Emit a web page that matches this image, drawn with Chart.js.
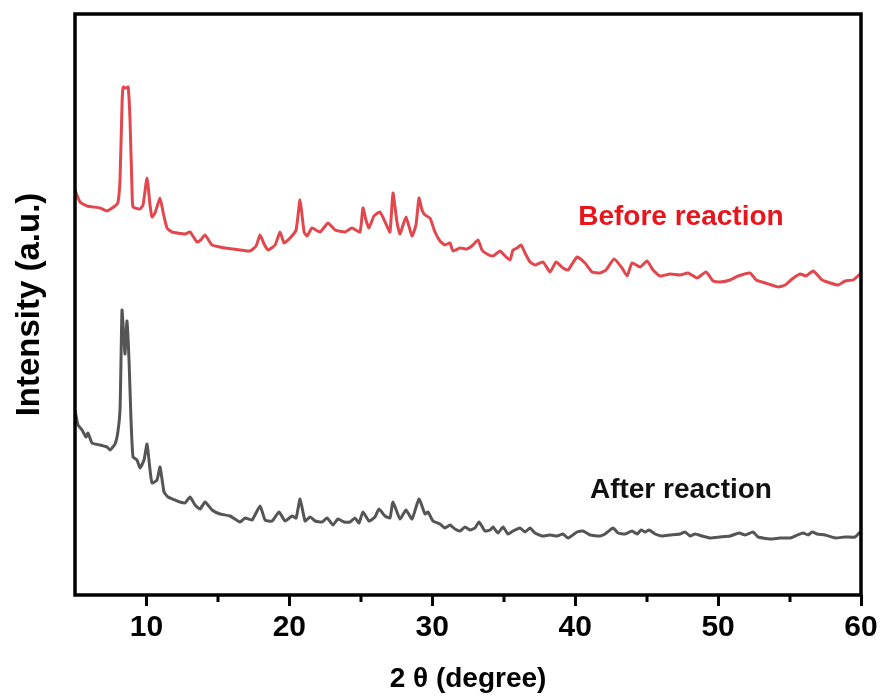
<!DOCTYPE html>
<html>
<head>
<meta charset="utf-8">
<script src="https://cdn.jsdelivr.net/npm/chart.js@4/dist/chart.umd.min.js"></script>
<style>
html,body{margin:0;padding:0;background:#fff;}
canvas{display:block;}
</style>
</head>
<body>
<canvas id="c" width="882" height="700"></canvas>
<script>
// 2θ (degree) and intensity (a.u.) — "Before reaction"
const beforeTheta = [5.0,5.35,5.84,6.75,7.24,7.8,8.0,8.15,8.3,8.38,8.57,8.72,8.85,8.99,9.06,9.55,9.76,10.04,10.25,10.39,10.6,10.95,11.16,11.44,11.79,12.7,13.05,13.54,13.8,14.1,14.59,15.5,16.55,17.25,17.67,17.95,18.23,18.5,19.0,19.35,19.63,20.05,20.47,20.75,21.03,21.24,21.58,22.15,22.7,23.2,23.9,24.38,24.94,25.15,25.36,25.57,25.92,26.34,26.76,27.04,27.25,27.53,27.74,28.16,28.58,28.86,29.07,29.28,29.49,29.84,30.19,30.54,30.89,31.24,31.45,31.94,32.43,32.85,33.2,33.48,33.83,34.25,34.74,35.09,35.44,35.65,35.93,36.21,36.56,36.84,37.19,37.75,38.24,38.66,39.15,39.5,40.13,40.69,41.18,41.74,42.16,42.72,43.28,43.63,43.98,44.54,45.03,45.45,45.94,46.64,47.34,47.9,48.53,49.16,49.65,50.14,50.84,51.4,52.24,52.66,53.29,54.2,54.69,55.18,55.74,56.16,56.65,57.28,57.84,58.4,58.89,59.45,59.94];
const beforeIntensity = [408,396,392,390,387,392,395,418,498,511,510,511,478,408,391,389,393,420,393,381,385,400,386,370,366,364,366,356,358,363,353,350,348,347,352,363,354,348,353,366,355,360,368,398,366,362,370,366,375,368,366,370,366,390,378,370,382,386,374,366,405,376,364,381,362,373,400,388,383,380,366,357,353,355,347,350,349,353,358,348,344,342,347,342,338,348,350,353,343,336,333,336,326,336,330,328,341,335,326,325,328,339,330,322,335,331,337,328,322,324,323,325,320,326,317,316,318,322,325,318,315,311,313,319,324,322,327,318,315,313,317,318,324];

// "After reaction"
const afterTheta = [5.0,5.21,5.49,5.77,5.91,6.19,6.75,7.24,7.45,7.8,8.0,8.15,8.22,8.29,8.43,8.5,8.64,8.78,8.92,9.06,9.34,9.55,9.83,10.04,10.25,10.39,10.74,10.95,11.23,11.51,12.0,12.35,12.7,13.05,13.4,13.75,14.1,14.59,15.15,15.85,16.55,16.9,17.39,17.95,18.3,18.79,19.28,19.7,20.19,20.47,20.75,21.1,21.45,21.8,22.29,22.64,23.05,23.4,23.82,24.24,24.59,24.87,25.15,25.57,25.99,26.27,26.69,27.04,27.25,27.74,28.16,28.58,29.07,29.49,29.7,30.05,30.54,30.89,31.24,31.59,31.94,32.29,32.64,32.99,33.27,33.69,34.04,34.25,34.6,34.95,35.3,35.65,36.14,36.49,36.84,37.19,37.68,38.24,38.73,39.15,39.5,40.13,40.55,41.04,41.74,42.09,42.65,43.0,43.49,43.98,44.33,44.61,44.89,45.17,45.59,46.08,46.64,47.34,47.69,48.04,48.39,48.88,49.44,50.14,50.84,51.47,51.89,52.45,52.8,53.64,54.34,55.04,55.39,55.95,56.3,56.58,56.93,57.49,58.19,58.89,59.59,59.94];
const afterIntensity = [188,173,168,161,165,155,153,151,148,154,166,188,238,288,258,244,277,238,178,141,138,130,138,154,128,115,118,131,106,101,98,96,95,101,93,89,96,88,84,82,76,80,78,92,78,77,86,77,82,80,99,77,81,77,76,80,73,79,76,76,80,75,86,77,81,89,82,80,96,79,88,79,99,84,86,77,74,70,73,69,67,71,68,70,76,67,68,71,65,71,64,67,70,66,70,65,62,63,62,64,60,66,67,63,62,64,70,65,64,67,64,68,66,68,64,62,63,64,66,62,64,62,60,61,62,65,63,66,61,59,60,60,62,65,63,66,64,63,60,61,61,66];

const majorTicks = [10,20,30,40,50,60];
const minorTicks = [15,25,35,45,55];
const seriesLabels = ["Before reaction","After reaction"];
const xTitle = "2 θ (degree)";
const yTitle = "Intensity (a.u.)";

const toPts = (xs, ys) => xs.map((x, i) => ({x: x, y: ys[i]}));

const framePlugin = {
  id: 'frame',
  afterDraw(chart) {
    const {ctx, chartArea: a, scales} = chart;
    ctx.save();
    ctx.strokeStyle = '#000';
    ctx.lineWidth = 3.5;
    ctx.strokeRect(a.left, a.top, a.right - a.left, a.bottom - a.top);
    // minor ticks
    ctx.lineWidth = 3;
    ctx.beginPath();
    minorTicks.forEach(v => {
      const px = Math.round(scales.x.getPixelForValue(v));
      ctx.moveTo(px, a.bottom);
      ctx.lineTo(px, a.bottom + 7);
    });
    ctx.stroke();
    // series labels
    ctx.font = 'bold 28px "Liberation Sans", Arial, sans-serif';
    ctx.textAlign = 'center';
    ctx.textBaseline = 'alphabetic';
    ctx.fillStyle = '#e8151d';
    ctx.fillText(seriesLabels[0], scales.x.getPixelForValue(47.4), scales.y.getPixelForValue(373));
    ctx.fillStyle = '#111';
    ctx.fillText(seriesLabels[1], scales.x.getPixelForValue(47.4), scales.y.getPixelForValue(100));
    ctx.restore();
  }
};

new Chart(document.getElementById('c'), {
  type: 'line',
  data: {
    datasets: [
      {label: seriesLabels[0], data: toPts(beforeTheta, beforeIntensity), borderColor: '#e2474d', borderWidth: 3, pointRadius: 0, tension: 0.15, fill: false},
      {label: seriesLabels[1], data: toPts(afterTheta, afterIntensity), borderColor: '#555555', borderWidth: 3, pointRadius: 0, tension: 0.15, fill: false}
    ]
  },
  options: {
    responsive: false,
    devicePixelRatio: 1,
    animation: false,
    layout: {padding: {top: 14, right: 21, left: 0, bottom: 0}},
    plugins: {legend: {display: false}, tooltip: {enabled: false}},
    scales: {
      x: {
        type: 'linear',
        min: 5, max: 60,
        afterBuildTicks: s => { s.ticks = majorTicks.map(v => ({value: v})); },
        afterFit: s => { s.height = 105; },
        border: {display: false},
        grid: {display: true, drawOnChartArea: false, drawTicks: true, tickLength: 11, tickWidth: 3, tickColor: '#000', color: '#000'},
        ticks: {color: '#000', font: {family: '"Liberation Sans", Arial, sans-serif', size: 30, weight: 'bold'}, padding: 4, maxRotation: 0},
        title: {display: true, text: xTitle, color: '#000', font: {family: '"Liberation Sans", Arial, sans-serif', size: 28, weight: 'bold', lineHeight: 1.2}, padding: {bottom: 4, top: 0}}
      },
      y: {
        min: 3, max: 584,
        afterFit: s => { s.width = 75; },
        border: {display: false},
        grid: {display: false},
        ticks: {display: false},
        title: {display: true, text: yTitle, color: '#000', font: {family: '"Liberation Sans", Arial, sans-serif', size: 33, weight: 'bold', lineHeight: 1.2}, padding: {top: 10, bottom: 0}}
      }
    }
  },
  plugins: [framePlugin]
});
</script>
</body>
</html>
